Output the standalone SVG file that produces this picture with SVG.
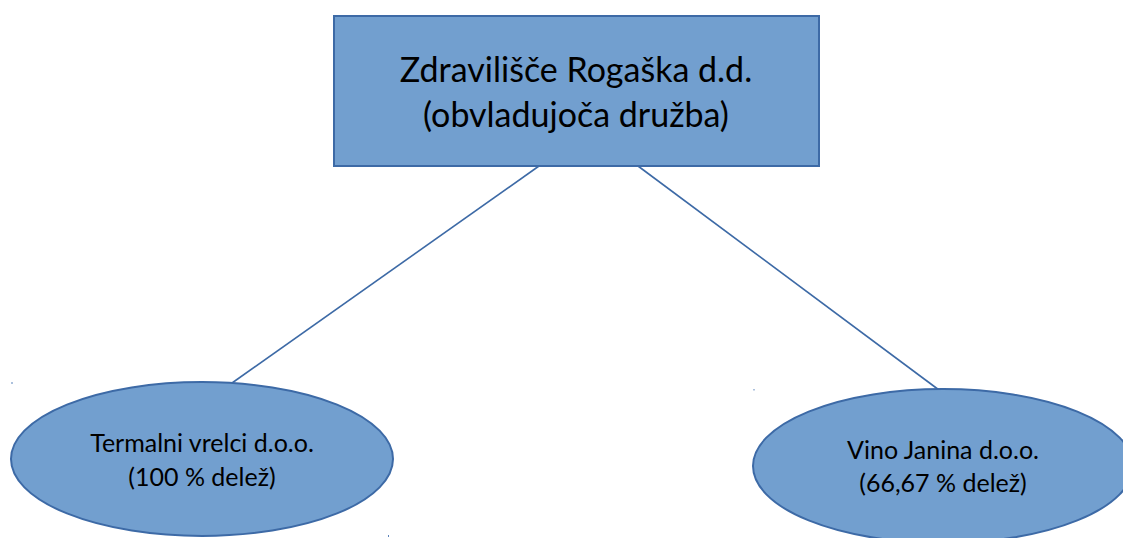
<svg xmlns="http://www.w3.org/2000/svg" width="1123" height="538" viewBox="0 0 1123 538">
<style>
.box{fill:#729fcf;stroke:#3d6aa6;stroke-width:2}
.conn{stroke:#3d6aa6;stroke-width:1.6;fill:none}
.t{font-family:Lato,"Liberation Sans",sans-serif;fill:#000;text-anchor:middle}
.big{font-size:34px}
.small{font-size:25px}
.dot{fill:#5b83bb}
</style>
<rect width="1123" height="538" fill="#fff"/>
<g id="connectors">
<line class="conn" x1="539" y1="166" x2="232" y2="383"/>
<line class="conn" x1="638" y1="166" x2="939" y2="390"/>
</g>
<g id="parent">
<rect class="box" x="334" y="16" width="485" height="150"/>
<text class="t big" x="576" y="82">Zdravilišče Rogaška d.d.</text>
<text class="t big" x="576" y="127">(obvladujoča družba)</text>
</g>
<g id="child1">
<ellipse class="box" cx="202" cy="459" rx="191" ry="77"/>
<text class="t small" x="202" y="452">Termalni vrelci d.o.o.</text>
<text class="t small" x="202" y="486">(100 % delež)</text>
</g>
<g id="child2">
<ellipse class="box" cx="943" cy="466" rx="190" ry="77"/>
<text class="t small" x="943" y="459">Vino Janina d.o.o.</text>
<text class="t small" x="943" y="492">(66,67 % delež)</text>
</g>
<rect class="dot" x="11.5" y="382" width="1" height="2"/>
<rect class="dot" x="753.5" y="389" width="1" height="1.5"/>
<rect class="dot" x="388" y="535" width="1" height="2"/>
</svg>
